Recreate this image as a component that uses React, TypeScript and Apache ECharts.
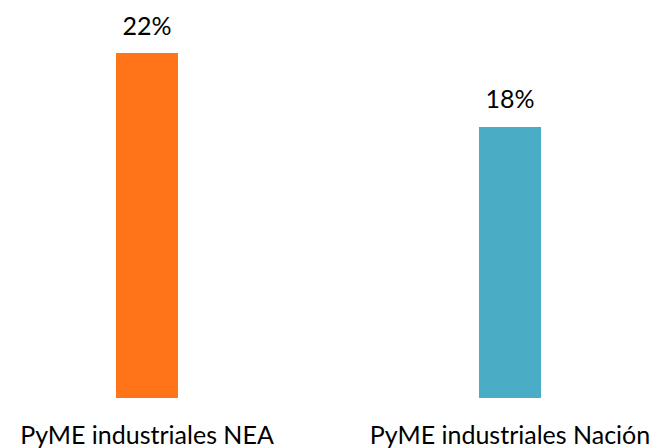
import React, { useEffect, useRef } from "react";
import * as echarts from "echarts";

const categories = ["PyME industriales NEA", "PyME industriales Nación"];
const values = [0.224, 0.176];
const colors = ["#FF7418", "#4BACC6"];

export default function App() {
  const ref = useRef<HTMLDivElement>(null);
  useEffect(() => {
    const chart = echarts.init(ref.current!, null, { renderer: "svg" });
    chart.setOption({
      animation: false,
      grid: { left: 147, right: 152, top: 13, bottom: 50, containLabel: false },
      xAxis: {
        type: "category",
        data: categories,
        boundaryGap: false,
        axisLine: { show: false },
        axisTick: { show: false },
        splitLine: { show: false },
        axisLabel: {
          interval: 0,
          color: "#000",
          fontFamily: "Lato",
          fontSize: 25,
          margin: 23,
        },
      },
      yAxis: {
        type: "value",
        min: 0,
        max: 0.25,
        show: false,
        splitLine: { show: false },
      },
      series: [
        {
          type: "bar",
          barWidth: 62,
          data: values.map((v, i) => ({ value: v, itemStyle: { color: colors[i] } })),
          label: {
            show: true,
            position: "top",
            distance: 16,
            color: "#000",
            fontFamily: "Lato",
            fontSize: 25,
            formatter: (p: any) => Math.round(p.value * 100) + "%",
          },
        },
      ],
    });
    return () => chart.dispose();
  }, []);
  return (
    <div
      ref={ref}
      style={{ position: "fixed", left: 0, top: 0, width: 662, height: 448, background: "#fff" }}
    />
  );
}
